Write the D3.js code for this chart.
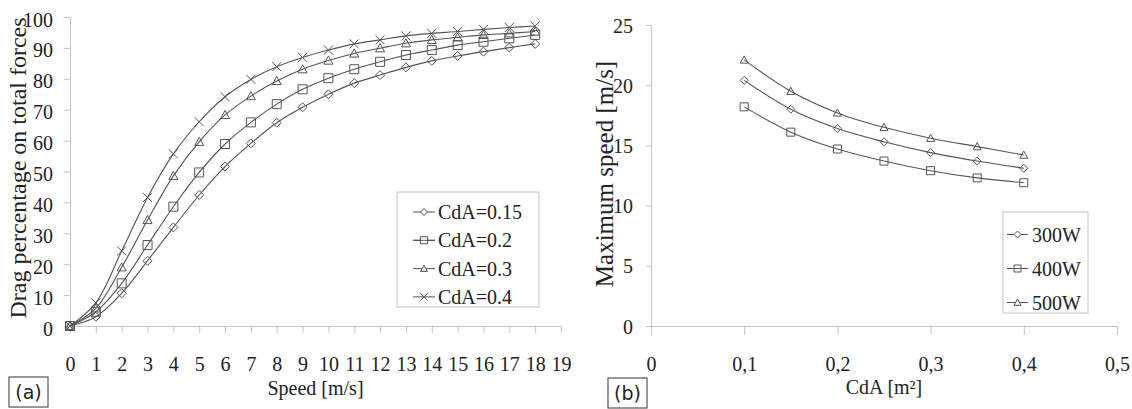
<!DOCTYPE html>
<html>
<head>
<meta charset="utf-8">
<script src="https://cdn.jsdelivr.net/npm/d3@7"></script>
<style>
  html, body { margin: 0; padding: 0; background: #fff; }
  svg { display: block; }
  text { font-family: "Liberation Serif", "Times New Roman", serif; fill: #222; }
</style>
</head>
<body>
<svg id="chart" width="1132" height="409"></svg>
<script>
// ---- Panel (a): drag share of total resistive force vs. speed ----
const speeds = [0, 1, 2, 3, 4, 5, 6, 7, 8, 9, 10, 11, 12, 13, 14, 15, 16, 17, 18];
const dragCdA015 = [0, 3.0, 10.6, 21.1, 31.9, 42.4, 51.6, 59.1, 65.8, 70.8, 75.0, 78.6, 81.2, 83.7, 85.8, 87.4, 88.8, 90.1, 91.3];
const dragCdA02  = [0, 4.6, 13.8, 26.2, 38.6, 49.7, 58.9, 65.9, 71.8, 76.6, 80.2, 83.1, 85.5, 87.7, 89.3, 90.9, 92.0, 93.1, 94.2];
const dragCdA03  = [0, 5.7, 19.0, 34.3, 48.6, 59.6, 68.3, 74.4, 79.3, 83.1, 85.9, 88.2, 89.9, 91.5, 92.6, 93.4, 94.2, 94.7, 95.3];
const dragCdA04  = [0, 7.5, 24.3, 41.6, 55.7, 66.1, 74.2, 79.8, 83.9, 86.9, 89.3, 91.3, 92.6, 93.9, 94.7, 95.3, 96.0, 96.6, 97.1];
const dragLabels = ["CdA=0.15", "CdA=0.2", "CdA=0.3", "CdA=0.4"];
const speedTicks = d3.range(0, 20);
const dragTicks = d3.range(0, 101, 10);

// ---- Panel (b): maximum speed vs. CdA for three power levels ----
const cdaValues = [0.10, 0.15, 0.20, 0.25, 0.30, 0.35, 0.40];
const vmax300W = [20.4, 18.0, 16.4, 15.3, 14.4, 13.7, 13.1];
const vmax400W = [18.2, 16.1, 14.7, 13.7, 12.9, 12.3, 11.9];
const vmax500W = [22.1, 19.5, 17.7, 16.5, 15.6, 14.9, 14.2];
const powerLabels = ["300W", "400W", "500W"];
const cdaTicks = [0, 0.1, 0.2, 0.3, 0.4, 0.5];
const vmaxTicks = [0, 5, 10, 15, 20, 25];

const svg = d3.select("#chart");
svg.append("rect").attr("width", 1132).attr("height", 409).attr("fill", "#fff");

const AXIS = "#c4c4c4";
const INK = "#555";

// marker path generators centred on (0,0)
function markerPath(kind, s) {
  const h = s / 2;
  switch (kind) {
    case "diamond": return `M0,${-h}L${h},0L0,${h}L${-h},0Z`;
    case "square": return `M${-h},${-h}H${h}V${h}H${-h}Z`;
    case "triangle": return `M0,${-h}L${h},${h * 0.8}H${-h}Z`;
    case "cross": return `M${-h},${-h}L${h},${h}M${h},${-h}L${-h},${h}`;
  }
}

function drawPanel(cfg) {
  const g = svg.append("g");
  const x = d3.scaleLinear().domain(cfg.xDomain).range(cfg.xRange);
  const y = d3.scaleLinear().domain(cfg.yDomain).range(cfg.yRange);

  // x axis
  const xa = g.append("g")
    .attr("transform", `translate(0,${cfg.yRange[0]})`)
    .call(d3.axisBottom(x).tickValues(cfg.xTicks).tickSize(cfg.xTickLen)
      .tickPadding(cfg.xPad).tickFormat(cfg.xFormat));
  // y axis
  const ya = g.append("g")
    .attr("transform", `translate(${cfg.xRange[0]},0)`)
    .call(d3.axisLeft(y).tickValues(cfg.yTicks).tickSize(cfg.yTickLen)
      .tickPadding(cfg.yPad));
  [xa, ya].forEach(a => {
    a.select(".domain").attr("stroke", AXIS).attr("stroke-width", 1);
    a.selectAll(".tick line").attr("stroke", AXIS).attr("stroke-width", 1);
    a.selectAll(".tick text").attr("fill", "#222")
      .style("font-family", '"Liberation Serif", serif').style("font-size", "20px");
  });
  ya.selectAll(".tick text").attr("dy", cfg.yLabelDy);

  // series
  const line = d3.line()
    .x((d, i) => x(cfg.xs[i]))
    .y(d => y(d))
    .curve(d3.curveCatmullRom.alpha(0.5));
  cfg.series.forEach((vals, k) => {
    g.append("path").datum(vals)
      .attr("d", line).attr("fill", "none")
      .attr("stroke", INK).attr("stroke-width", 1.1);
  });
  cfg.series.forEach((vals, k) => {
    g.append("g").selectAll("path").data(vals).join("path")
      .attr("transform", (d, i) => `translate(${x(cfg.xs[i])},${y(d)})`)
      .attr("d", markerPath(cfg.markers[k], cfg.markerSize))
      .attr("fill", "none").attr("stroke", INK).attr("stroke-width", 1);
  });

  // axis titles
  g.append("text")
    .attr("x", (cfg.xRange[0] + cfg.xRange[1]) / 2).attr("y", cfg.xTitleY)
    .attr("text-anchor", "middle").style("font-size", "20px")
    .text(cfg.xTitle);
  g.append("text")
    .attr("transform", `translate(${cfg.yTitleX},${cfg.yTitleY}) rotate(-90)`)
    .attr("text-anchor", "middle").style("font-size", cfg.yTitleSize + "px")
    .text(cfg.yTitle);

  // legend
  const L = cfg.legend;
  g.append("rect").attr("x", L.x).attr("y", L.y).attr("width", L.w).attr("height", L.h)
    .attr("fill", "#fff").attr("stroke", AXIS).attr("stroke-width", 1);
  cfg.labels.forEach((lab, k) => {
    const cy = L.firstY + k * L.step;
    g.append("line").attr("x1", L.lineX0).attr("x2", L.lineX1)
      .attr("y1", cy).attr("y2", cy).attr("stroke", INK).attr("stroke-width", 1);
    g.append("path").attr("transform", `translate(${(L.lineX0 + L.lineX1) / 2},${cy})`)
      .attr("d", markerPath(cfg.markers[k], 7))
      .attr("fill", "#fff").attr("stroke", INK).attr("stroke-width", 1);
    g.append("line").attr("x1", L.lineX0).attr("x2", L.lineX1)
      .attr("y1", cy).attr("y2", cy).attr("stroke", INK).attr("stroke-width", 1)
      .attr("opacity", cfg.markers[k] === "square" ? 1 : 0);
    g.append("text").attr("x", L.textX).attr("y", cy).attr("dy", "0.35em")
      .style("font-size", "20px").text(lab);
  });

  // panel tag
  g.append("rect").attr("x", cfg.tag.x).attr("y", cfg.tag.y).attr("width", 39).attr("height", 30)
    .attr("fill", "#fff").attr("stroke", "#333").attr("stroke-width", 1);
  g.append("text").attr("x", cfg.tag.x + 19.5).attr("y", cfg.tag.y + 22)
    .attr("text-anchor", "middle")
    .style("font-family", '"DejaVu Sans", sans-serif').style("font-size", "19px")
    .attr("fill", "#333").text(cfg.tag.text);
}

drawPanel({
  xs: speeds,
  series: [dragCdA015, dragCdA02, dragCdA03, dragCdA04],
  markers: ["diamond", "square", "triangle", "cross"],
  labels: dragLabels,
  markerSize: 9,
  xDomain: [0, 19], xRange: [70, 561],
  yDomain: [0, 100], yRange: [326, 17],
  xTicks: speedTicks, xTickLen: 7, xPad: 24, xFormat: d3.format("d"),
  yTicks: dragTicks, yTickLen: 6, yPad: 11, yLabelDy: "0.45em",
  xTitle: "Speed [m/s]", xTitleY: 395,
  yTitle: "Drag percentage on total forces", yTitleX: 26, yTitleY: 168, yTitleSize: 24,
  legend: { x: 397, y: 192, w: 142, h: 115, firstY: 212, step: 28.3,
            lineX0: 413, lineX1: 435, textX: 438 },
  tag: { x: 9, y: 377, text: "(a)" }
});

drawPanel({
  xs: cdaValues,
  series: [vmax300W, vmax400W, vmax500W],
  markers: ["diamond", "square", "triangle"],
  labels: powerLabels,
  markerSize: 8,
  xDomain: [0, 0.5], xRange: [651, 1117],
  yDomain: [0, 25], yRange: [326, 25],
  xTicks: cdaTicks, xTickLen: 9, xPad: 22,
  xFormat: d => d === 0 ? "0" : d3.format(".1f")(d).replace(".", ","),
  yTicks: vmaxTicks, yTickLen: 5, yPad: 13, yLabelDy: "0.35em",
  xTitle: "CdA [m²]", xTitleY: 394,
  yTitle: "Maximum speed [m/s]", yTitleX: 613, yTitleY: 174, yTitleSize: 25,
  legend: { x: 1003, y: 212, w: 85, h: 101, firstY: 234.5, step: 34,
            lineX0: 1007, lineX1: 1028, textX: 1032 },
  tag: { x: 608, y: 378, text: "(b)" }
});
</script>
</body>
</html>
